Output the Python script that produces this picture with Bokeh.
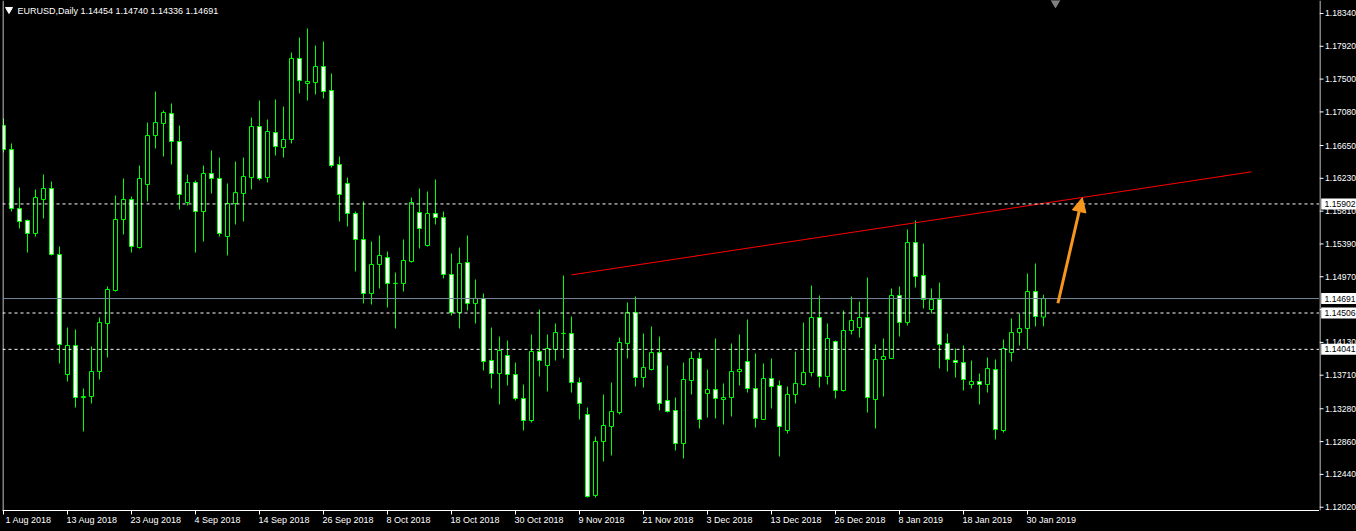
from bokeh.plotting import figure
from bokeh.layouts import row
from bokeh.models import Span, Label, Arrow, NormalHead, FixedTicker, Range1d
from bokeh.core.properties import value
from bokeh.embed import file_html
from bokeh.resources import INLINE

# ---------------- data (EURUSD daily, bar index 0 = 1 Aug 2018) ----------------
opens = [1.16906, 1.16599, 1.15844, 1.15690, 1.15524, 1.15959, 1.16100, 1.15255, 1.13719, 1.14090,
         1.13424, 1.13437, 1.13757, 1.14372, 1.14794, 1.15703, 1.15959, 1.15344, 1.16151, 1.16778,
         1.16932, 1.17060, 1.16701, 1.15920, 1.16176, 1.15805, 1.16292, 1.16228, 1.15485, 1.15908,
         1.16036, 1.16240, 1.16893, 1.16240, 1.16816, 1.16624, 1.16727, 1.17764, 1.17444, 1.17456,
         1.17661, 1.17354, 1.16407, 1.16164, 1.15780, 1.15447, 1.14756, 1.15127, 1.15216, 1.14884,
         1.14884, 1.15165, 1.15792, 1.15370, 1.15780, 1.15728, 1.14999, 1.14512, 1.15152, 1.14628,
         1.14692, 1.13898, 1.13732, 1.13962, 1.13719, 1.13412, 1.13130, 1.14013, 1.13834, 1.14039,
         1.14244, 1.14244, 1.13616, 1.13207, 1.12170, 1.12861, 1.13053, 1.13232, 1.14116, 1.14512,
         1.13680, 1.13783, 1.14000, 1.13386, 1.13258, 1.12836, 1.13642, 1.13924, 1.13476, 1.13527,
         1.13399, 1.13424, 1.13757, 1.13885, 1.13540, 1.13143, 1.13668, 1.13578, 1.13002, 1.13463,
         1.13591, 1.13744, 1.14448, 1.13693, 1.14141, 1.13514, 1.14282, 1.14320, 1.14448, 1.13399,
         1.13911, 1.13924, 1.14730, 1.14384, 1.15408, 1.14986, 1.14551, 1.14679, 1.14116, 1.13898,
         1.13872, 1.13591, 1.13629, 1.13591, 1.13783, 1.13002, 1.14000, 1.14256, 1.14308, 1.14781,
         1.14454]
highs = [1.16996, 1.16676, 1.16112, 1.15703, 1.16087, 1.16279, 1.16189, 1.15357, 1.14320, 1.14295,
         1.13540, 1.14077, 1.14448, 1.14845, 1.16010, 1.16228, 1.15997, 1.16394, 1.16944, 1.17341,
         1.17098, 1.17188, 1.16906, 1.16279, 1.16202, 1.16394, 1.16586, 1.16496, 1.16164, 1.16445,
         1.16496, 1.17008, 1.17226, 1.16983, 1.17239, 1.17149, 1.17840, 1.18032, 1.18148, 1.17930,
         1.17981, 1.17572, 1.16509, 1.16240, 1.15805, 1.15933, 1.15421, 1.15498, 1.15293, 1.15024,
         1.15447, 1.15984, 1.16100, 1.16061, 1.16215, 1.15805, 1.15268, 1.15344, 1.15498, 1.14935,
         1.14756, 1.14320, 1.14205, 1.14154, 1.13872, 1.13591, 1.14231, 1.14551, 1.14231, 1.14372,
         1.14986, 1.14461, 1.13680, 1.13296, 1.12925, 1.13463, 1.13616, 1.14192, 1.14640, 1.14717,
         1.14244, 1.14333, 1.14205, 1.13834, 1.13424, 1.13872, 1.14013, 1.14000, 1.13783, 1.14180,
         1.13604, 1.14116, 1.14231, 1.14423, 1.13988, 1.13860, 1.13924, 1.13642, 1.13565, 1.14013,
         1.14384, 1.14858, 1.14730, 1.14372, 1.14154, 1.14538, 1.14717, 1.14653, 1.14960, 1.14103,
         1.14180, 1.14820, 1.14845, 1.15575, 1.15690, 1.15396, 1.14820, 1.14896, 1.14244, 1.14052,
         1.14090, 1.13898, 1.13732, 1.13936, 1.13911, 1.14167, 1.14436, 1.14500, 1.15012, 1.15140,
         1.14740]
lows = [1.16560, 1.15805, 1.15588, 1.15280, 1.15485, 1.15716, 1.15242, 1.13860, 1.13629, 1.13296,
        1.12989, 1.13348, 1.13655, 1.13936, 1.14781, 1.15511, 1.15280, 1.15332, 1.15933, 1.16612,
        1.16509, 1.16407, 1.15831, 1.15882, 1.15280, 1.15421, 1.16036, 1.15485, 1.15242, 1.15639,
        1.15677, 1.16087, 1.16202, 1.16176, 1.16522, 1.16496, 1.16676, 1.17316, 1.17226, 1.17303,
        1.17252, 1.16368, 1.15677, 1.15613, 1.15037, 1.14628, 1.14615, 1.14820, 1.14576, 1.14308,
        1.14781, 1.15152, 1.15332, 1.15357, 1.15639, 1.14948, 1.14474, 1.14308, 1.14538, 1.14372,
        1.13770, 1.13540, 1.13335, 1.13578, 1.13386, 1.13002, 1.13104, 1.13693, 1.13501, 1.13898,
        1.13924, 1.13488, 1.13143, 1.12144, 1.12144, 1.12605, 1.12682, 1.13207, 1.13924, 1.13565,
        1.13552, 1.13770, 1.13258, 1.13232, 1.12746, 1.12644, 1.13463, 1.13028, 1.13168, 1.13156,
        1.13079, 1.13181, 1.13578, 1.13488, 1.13040, 1.13143, 1.13284, 1.12669, 1.12964, 1.13348,
        1.13578, 1.13693, 1.13552, 1.13591, 1.13412, 1.13501, 1.14231, 1.14192, 1.13232, 1.13028,
        1.13437, 1.13918, 1.14205, 1.14346, 1.14832, 1.14564, 1.14500, 1.13796, 1.13757, 1.13680,
        1.13514, 1.13540, 1.13335, 1.13488, 1.12887, 1.12976, 1.13885, 1.14090, 1.14039, 1.14333,
        1.14336]
closes = [1.16599, 1.15844, 1.15677, 1.15524, 1.15984, 1.16100, 1.15255, 1.14103, 1.14090, 1.13424,
          1.13437, 1.13757, 1.14384, 1.14807, 1.15703, 1.15959, 1.15357, 1.16228, 1.16778, 1.16944,
          1.17072, 1.16701, 1.16023, 1.16176, 1.15805, 1.16292, 1.16228, 1.15524, 1.15908, 1.16048,
          1.16253, 1.16893, 1.16228, 1.16829, 1.16637, 1.16727, 1.17764, 1.17482, 1.17469, 1.17661,
          1.17341, 1.16394, 1.16023, 1.15780, 1.15447, 1.14756, 1.15127, 1.15242, 1.14884, 1.14886,
          1.15178, 1.15920, 1.15588, 1.15780, 1.15728, 1.14999, 1.14512, 1.15140, 1.14628, 1.14692,
          1.13885, 1.13732, 1.14026, 1.13719, 1.13412, 1.13130, 1.14013, 1.13898, 1.14052, 1.14256,
          1.14246, 1.13616, 1.13348, 1.12157, 1.12861, 1.13066, 1.13245, 1.14128, 1.14512, 1.13680,
          1.13808, 1.14000, 1.13348, 1.13245, 1.12836, 1.13655, 1.13924, 1.13143, 1.13527, 1.13412,
          1.13424, 1.13757, 1.13783, 1.13540, 1.13156, 1.13668, 1.13565, 1.13053, 1.13463, 1.13604,
          1.13744, 1.14448, 1.13693, 1.14180, 1.13514, 1.14282, 1.14410, 1.14448, 1.13424, 1.13911,
          1.13949, 1.14730, 1.14384, 1.15408, 1.14973, 1.14679, 1.14679, 1.14103, 1.13911, 1.13872,
          1.13655, 1.13629, 1.13591, 1.13796, 1.13015, 1.14052, 1.14256, 1.14308, 1.14781, 1.14461,
          1.14691]

date_labels = ["1 Aug 2018", "13 Aug 2018", "23 Aug 2018", "4 Sep 2018", "14 Sep 2018",
               "26 Sep 2018", "8 Oct 2018", "18 Oct 2018", "30 Oct 2018", "9 Nov 2018",
               "21 Nov 2018", "3 Dec 2018", "13 Dec 2018", "26 Dec 2018", "8 Jan 2019",
               "18 Jan 2019", "30 Jan 2019"]
date_label_bars = [0, 8, 16, 24, 32, 40, 48, 56, 64, 72, 80, 88, 96, 104, 112, 120, 128]

price_ticks = [1.18340, 1.17920, 1.17500, 1.17080, 1.16650, 1.16230, 1.15810, 1.15390,
               1.14970, 1.14550, 1.14130, 1.13710, 1.13280, 1.12860, 1.12440, 1.12020]
hidden_tick_labels = [1.14550]

level_lines = [1.15902, 1.14506, 1.14041]
bid_price = 1.14691
trend_bars = [71, 156]
trend_prices = [1.14994, 1.16313]
arrow_bars = [131.8, 134.85]
arrow_prices = [1.14631, 1.15981]

title_text = "EURUSD,Daily  1.14454 1.14740 1.14336 1.14691"

# ---------------- layout helpers ----------------
def bar_at(page_x):
    return (page_x - 3) / 8.0

def price_at(page_y):
    return 1.18506 - 0.000128 * page_y

EM = {" ": 0.278, "A": 0.667, "S": 0.667, "O": 0.778, "N": 0.722, "D": 0.722, "J": 0.5,
      "u": 0.556, "g": 0.556, "e": 0.556, "p": 0.556, "c": 0.5, "t": 0.278, "o": 0.556,
      "v": 0.5, "a": 0.556, "n": 0.556}

def text_w(s, size=9.0):
    return sum(EM.get(ch, 0.556) for ch in s) * size

GREEN = "#00ff00"
ORANGE = "#f7961e"
FONT = "Liberation Sans"
FS = "9px"
FS_SCALE = "8.6px"
FRAME_BOTTOM_PX = 510
yr = Range1d(price_at(FRAME_BOTTOM_PX), price_at(0))

# ---------------- main chart ----------------
p = figure(width=1319, height=531, output_backend="svg", toolbar_location=None,
           x_range=Range1d(-0.125, 164.5), y_range=yr,
           x_axis_location="below", y_axis_location=None,
           min_border_left=2, min_border_top=0, min_border_right=0, min_border_bottom=531 - FRAME_BOTTOM_PX,
           background_fill_color="black", border_fill_color="black",
           outline_line_color=None, title_location=None)
p.grid.grid_line_color = None

# date axis: minor ticks mark the bars, major (invisible) ticks carry the labels
label_centers = []
for b, lab in zip(date_label_bars, date_labels):
    start_px = max(3 + 8 * b - 1, 5)
    label_centers.append(round(bar_at(start_px + text_w(lab) / 2.0), 3))
xa = p.xaxis[0]
xa.ticker = FixedTicker(ticks=label_centers, minor_ticks=date_label_bars)
xa.major_label_overrides = {c: lab for c, lab in zip(label_centers, date_labels)}
xa.major_tick_line_color = None
xa.major_tick_out = 0
xa.major_tick_in = 0
xa.minor_tick_out = 4
xa.minor_tick_in = 0
xa.minor_tick_line_color = "white"
xa.axis_line_color = "white"
xa.major_label_text_color = "white"
xa.major_label_text_font = FONT
xa.major_label_text_font_size = FS
xa.major_label_standoff = 0

# frame left edge line
p.add_layout(Span(location=bar_at(2.5), dimension="height", line_color="white", line_width=1))

# level lines
for lv in level_lines:
    p.add_layout(Span(location=lv, dimension="width", line_color="white",
                      line_width=1, line_dash="3 3"))
p.add_layout(Span(location=bid_price, dimension="width", line_color="#778899", line_width=1))

# candles
idx = list(range(len(opens)))
bull = [i for i in idx if closes[i] >= opens[i]]
bear = [i for i in idx if closes[i] < opens[i]]
p.segment(x0=idx, y0=lows, x1=idx, y1=highs, line_color=GREEN, line_width=1)
p.vbar(x=bull, width=0.5, top=[closes[i] for i in bull], bottom=[opens[i] for i in bull],
       fill_color="black", line_color=GREEN, line_width=1)
p.vbar(x=bear, width=0.5, top=[opens[i] for i in bear], bottom=[closes[i] for i in bear],
       fill_color="white", line_color=GREEN, line_width=1)

# trend line and arrow
p.line(trend_bars, trend_prices, line_color="red", line_width=1)
p.add_layout(Arrow(end=NormalHead(size=14, fill_color=ORANGE, line_color=ORANGE),
                   x_start=arrow_bars[0], y_start=arrow_prices[0],
                   x_end=arrow_bars[1], y_end=arrow_prices[1],
                   line_color=ORANGE, line_width=3))

# title and markers
p.scatter([bar_at(8.5)], [price_at(9)], marker="inverted_triangle", size=7,
          fill_color="white", line_color="white")
p.scatter([bar_at(1055)], [price_at(2)], marker="inverted_triangle", size=9,
          fill_color="#808080", line_color="#808080")
p.add_layout(Label(x=bar_at(17), y=price_at(10), text=title_text, text_color="white",
                   text_font=FONT, text_font_size=FS, text_baseline="middle", text_align="left"))

# ---------------- price scale strip ----------------
s = figure(width=37, height=531, output_backend="svg", toolbar_location=None,
           x_range=Range1d(0, 37), y_range=yr,
           x_axis_location=None, y_axis_location=None,
           min_border_left=0, min_border_top=0, min_border_right=0,
           min_border_bottom=531 - FRAME_BOTTOM_PX,
           background_fill_color="black", border_fill_color="black",
           outline_line_color=None, title_location=None)
s.grid.grid_line_color = None
s.segment(x0=[0.5], y0=[price_at(FRAME_BOTTOM_PX)], x1=[0.5], y1=[price_at(0)],
          line_color="white", line_width=1)
s.segment(x0=[0] * len(price_ticks), y0=price_ticks, x1=[4] * len(price_ticks), y1=price_ticks,
          line_color="white", line_width=1)
shown = [t for t in price_ticks if t not in hidden_tick_labels]
s.text(x=[5.5] * len(shown), y=shown, text=[f"{t:.5f}" for t in shown], text_color="white",
       text_font=value(FONT), text_font_size=value(FS_SCALE), text_baseline="middle",
       text_align="left")
boxes = level_lines + [bid_price]
half = 5.5 * 0.000128
s.quad(left=[1.7] * len(boxes), right=[37] * len(boxes), top=[b + half for b in boxes],
       bottom=[b - half for b in boxes], fill_color="white", line_color=None)
s.text(x=[5] * len(boxes), y=boxes, text=[f"{b:.5f}" for b in boxes], text_color="black",
       text_font=value(FONT), text_font_size=value(FS_SCALE), text_baseline="middle",
       text_align="left")

layout = row(p, s, spacing=0)
html = file_html(layout, INLINE)
html = html.replace("</head>", "<style>html,body{background:#000000;}</style></head>", 1)
open("out.html", "w").write(html)
